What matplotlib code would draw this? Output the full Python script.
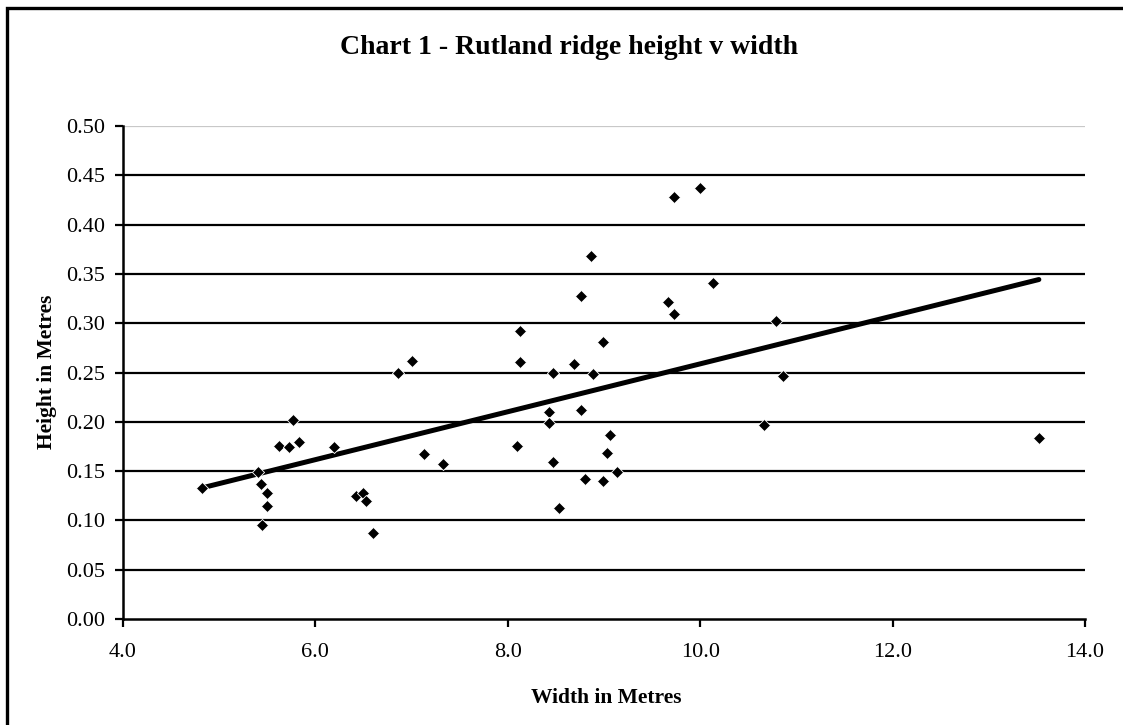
import numpy as np
import matplotlib.pyplot as plt
from matplotlib.patches import Rectangle

# -------------------------------------------------------------------
# DATOS
# -------------------------------------------------------------------
ancho = [4.82, 5.40, 5.43, 5.50, 5.50, 5.44, 5.77, 5.62, 5.73, 5.83,
         6.19, 6.86, 7.00, 7.13, 7.33, 6.42, 6.49, 6.53, 6.60, 8.13,
         8.13, 8.10, 8.47, 8.43, 8.43, 8.47, 8.53, 8.69, 8.76, 8.76,
         8.80, 8.86, 8.89, 8.99, 8.99, 9.03, 9.06, 9.13, 9.66, 9.73,
         9.73, 10.00, 10.13, 10.66, 10.79, 10.86, 13.52]
altura = [0.133, 0.149, 0.137, 0.128, 0.115, 0.095, 0.202, 0.175, 0.174, 0.180,
          0.174, 0.250, 0.262, 0.167, 0.157, 0.125, 0.128, 0.120, 0.087, 0.292,
          0.261, 0.175, 0.249, 0.210, 0.199, 0.159, 0.113, 0.259, 0.328, 0.212,
          0.142, 0.368, 0.248, 0.281, 0.140, 0.168, 0.187, 0.149, 0.321, 0.428,
          0.309, 0.437, 0.341, 0.197, 0.302, 0.246, 0.184]

x_ticks = [4.0, 6.0, 8.0, 10.0, 12.0, 14.0]
y_ticks = [0.00, 0.05, 0.10, 0.15, 0.20, 0.25, 0.30, 0.35, 0.40, 0.45, 0.50]

# Línea de tendencia lineal (mínimos cuadrados)
pend, orig = np.polyfit(ancho, altura, 1)
x_tend = np.array([min(ancho), max(ancho)])
y_tend = pend * x_tend + orig

# -------------------------------------------------------------------
# GRÁFICO
# -------------------------------------------------------------------
plt.rcParams['font.family'] = ['Liberation Serif', 'DejaVu Serif']

fig = plt.figure(figsize=(11.23, 7.25), dpi=100)
ax = fig.add_axes([0.1095, 0.1462, 0.8567, 0.68])

# marco exterior del gráfico
fig.patches.append(Rectangle((7 / 1123, -0.2), 1.2, 0.2 + 1 - 8 / 725,
                             transform=fig.transFigure, fill=False,
                             edgecolor='black', linewidth=2.4, zorder=0))

# líneas horizontales de la cuadrícula
for yv in y_ticks[1:]:
    col = '#c8c8c8' if yv == 0.50 else 'black'
    ax.axhline(yv, color=col, linewidth=1.6, zorder=1)

ax.scatter(ancho, altura, marker='D', s=38, color='black',
           edgecolors='white', linewidths=0.6, zorder=3)
ax.plot(x_tend, y_tend, color='black', linewidth=3.6,
        solid_capstyle='round', zorder=2)

ax.set_xlim(4.0, 14.0)
ax.set_ylim(0.0, 0.50)
ax.set_xticks(x_ticks)
ax.set_yticks(y_ticks)
ax.set_xticklabels([f'{v:.1f}' for v in x_ticks])
ax.set_yticklabels([f'{v:.2f}' for v in y_ticks])
ax.tick_params(axis='both', direction='out', length=6, width=1.6,
               labelsize=16, color='black')
ax.tick_params(axis='x', pad=11)
ax.tick_params(axis='y', pad=7)

for s in ['top', 'right']:
    ax.spines[s].set_visible(False)
for s in ['left', 'bottom']:
    ax.spines[s].set_linewidth(1.8)

fig.text(0.507, 0.934, 'Chart 1 - Rutland ridge height v width',
         ha='center', va='center', fontsize=20, fontweight='bold')
fig.text(0.540, 0.037, 'Width in Metres', ha='center', va='center',
         fontsize=15.5, fontweight='bold')
fig.text(0.042, 0.487, 'Height in Metres', ha='center', va='center',
         rotation=90, fontsize=15.5, fontweight='bold')

plt.savefig('out.png', dpi=100)
